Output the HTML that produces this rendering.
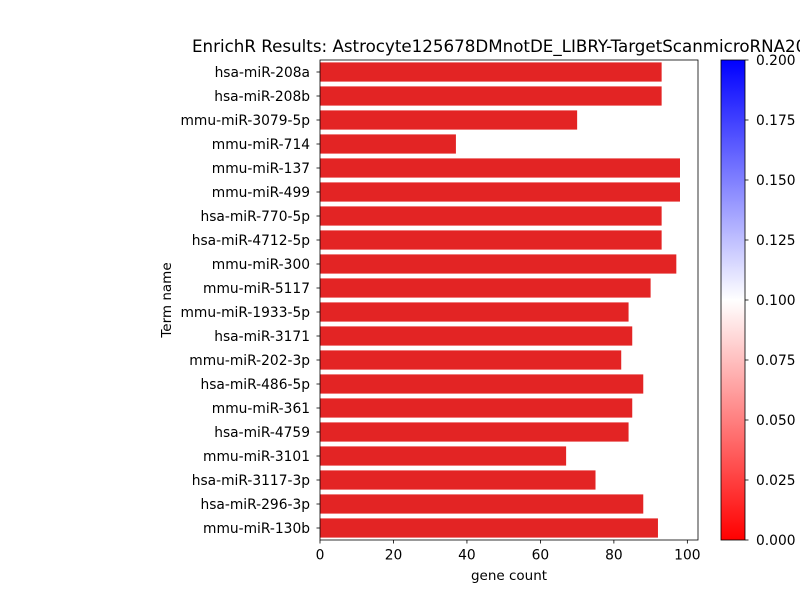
<!DOCTYPE html>
<html><head><meta charset="utf-8"><style>
body{margin:0;background:#fff;overflow:hidden;}
svg{font-family:"DejaVu Sans","Liberation Sans",sans-serif;display:block;}
</style></head><body>
<svg id="chart" width="800" height="600" viewBox="0 0 800 600" xmlns="http://www.w3.org/2000/svg">
<defs>
<linearGradient id="cb" x1="0" y1="1" x2="0" y2="0">
<stop offset="0" stop-color="#ff0000"/><stop offset="0.5" stop-color="#ffffff"/><stop offset="1" stop-color="#0000ff"/>
</linearGradient>
</defs>
<text x="192" y="52" font-size="16.7" fill="#000">EnrichR Results: Astrocyte125678DMnotDE_LIBRY-TargetScanmicroRNA2017</text>
<g id="bars"></g>
<g id="axes"></g>
<rect x="721" y="60" width="24" height="480" fill="url(#cb)" stroke="#000" stroke-width="0.8"/>
<g id="cbticks"></g>
<text x="0" y="0" transform="translate(171,300) rotate(-90)" text-anchor="middle" font-size="13.5">Term name</text>
<text x="509" y="580" text-anchor="middle" font-size="13.5">gene count</text>
</svg>
<script>
const categories=["hsa-miR-208a","hsa-miR-208b","mmu-miR-3079-5p","mmu-miR-714","mmu-miR-137","mmu-miR-499","hsa-miR-770-5p","hsa-miR-4712-5p","mmu-miR-300","mmu-miR-5117","mmu-miR-1933-5p","hsa-miR-3171","mmu-miR-202-3p","hsa-miR-486-5p","mmu-miR-361","hsa-miR-4759","mmu-miR-3101","hsa-miR-3117-3p","hsa-miR-296-3p","mmu-miR-130b"];
const counts=[93,93,70,37,98,98,93,93,97,90,84,85,82,88,85,84,67,75,88,92];
const xTicks=[0,20,40,60,80,100];
const cbTicks=["0.000","0.025","0.050","0.075","0.100","0.125","0.150","0.175","0.200"];
const NS="http://www.w3.org/2000/svg";
const L=320,R=698,T=60,B=540,xmax=102.9;
const xs=v=>L+v/xmax*(R-L);
const band=(B-T)/categories.length;
function mk(tag,attrs,parent){const e=document.createElementNS(NS,tag);for(const k in attrs)e.setAttribute(k,attrs[k]);parent.appendChild(e);return e;}
const gb=document.getElementById('bars'),ga=document.getElementById('axes'),gc=document.getElementById('cbticks');
categories.forEach((c,i)=>{
 const yc=T+band*(i+0.5);
 const r=mk('rect',{x:L,y:yc-band*0.4,width:xs(counts[i])-L,height:band*0.8,fill:'#e32424'},gb);
 
 
 mk('line',{x1:L-3.5,x2:L,y1:yc,y2:yc,stroke:'#000','stroke-width':0.8},ga);
 const t=mk('text',{x:L-10,y:yc+5,'text-anchor':'end','font-size':13.8},ga);t.textContent=c;
 
 
});
xTicks.forEach(v=>{
 const x=xs(v);
 mk('line',{x1:x,x2:x,y1:B,y2:B+3.5,stroke:'#000','stroke-width':0.8},ga);
 const t=mk('text',{x:x,y:B+19.5,'text-anchor':'middle','font-size':13.8},ga);t.textContent=v;
 
 
});
mk('rect',{x:L,y:T,width:R-L,height:B-T,fill:'none',stroke:'#000','stroke-width':0.8},ga);
cbTicks.forEach((s,i)=>{
 const y=B-i*(B-T)/(cbTicks.length-1);
 mk('line',{x1:745,x2:748.5,y1:y,y2:y,stroke:'#000','stroke-width':0.8},gc);
 const t=mk('text',{x:756,y:y+5,'font-size':13.8},gc);t.textContent=s;
 
 
});
</script>
</body></html>
